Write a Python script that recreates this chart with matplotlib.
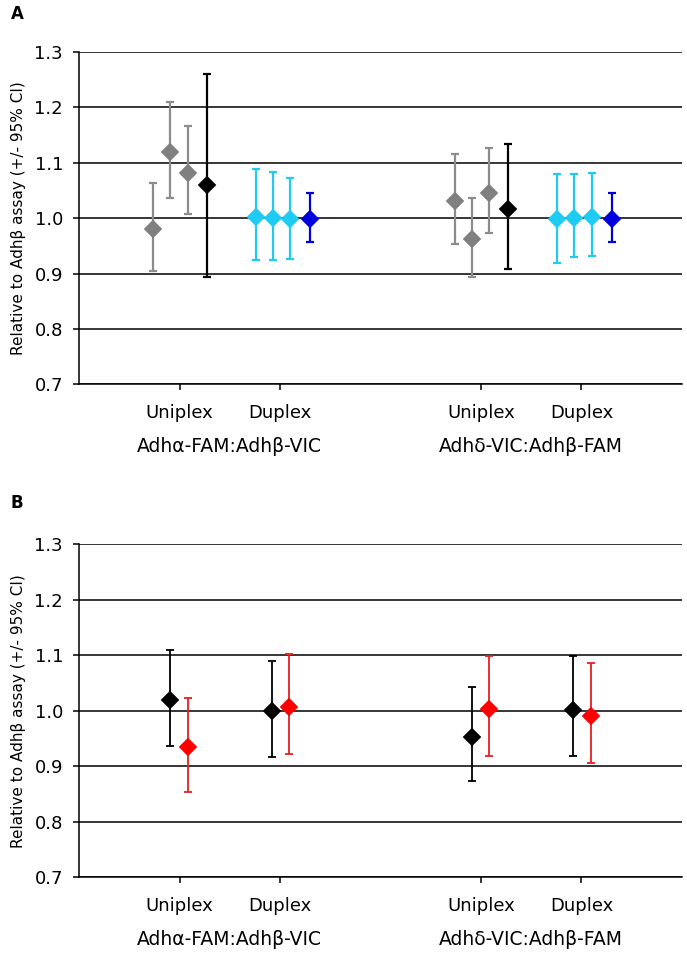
import matplotlib
matplotlib.use("Agg")
import matplotlib.pyplot as plt
import numpy as np

plt.rcParams['font.family'] = ['DejaVu Sans']

# categories
tick_labels = ['Uniplex', 'Duplex', 'Uniplex', 'Duplex']
group_labels = ['Adh\u03b1-FAM:Adh\u03b2-VIC', 'Adh\u03b4-VIC:Adh\u03b2-FAM']
ylabel = 'Relative to Adh\u03b2 assay (+/- 95% CI)'

# panel A: 4 assays per category (3 runs + pooled)
a_mean = [[0.980, 1.119, 1.082, 1.060],
          [1.002, 1.000, 0.999, 0.998],
          [1.031, 0.962, 1.046, 1.016],
          [0.999, 1.000, 1.002, 0.999]]
a_lo = [[0.904, 1.036, 1.008, 0.894],
        [0.925, 0.925, 0.927, 0.956],
        [0.953, 0.894, 0.973, 0.909],
        [0.919, 0.930, 0.932, 0.956]]
a_hi = [[1.064, 1.210, 1.167, 1.260],
        [1.088, 1.084, 1.073, 1.045],
        [1.116, 1.036, 1.127, 1.134],
        [1.079, 1.079, 1.082, 1.045]]

# panel B: 2 assays per category
b_mean = [[1.019, 0.935],
          [1.000, 1.007],
          [0.953, 1.004],
          [1.002, 0.991]]
b_lo = [[0.937, 0.854],
        [0.917, 0.923],
        [0.873, 0.918],
        [0.918, 0.906]]
b_hi = [[1.109, 1.024],
        [1.089, 1.103],
        [1.043, 1.098],
        [1.098, 1.087]]

# layout / style
cat_x = [1, 2, 4, 5]
a_offsets = [[-0.26, -0.09, 0.08, 0.27], [-0.24, -0.07, 0.10, 0.30]]
b_offsets = [[-0.09, 0.08], [-0.08, 0.09]]
a_face = [['#808080', '#808080', '#808080', 'black'],
          ['#1ecbf2', '#1ecbf2', '#1ecbf2', '#0000dd']]
a_err = [['#8c8c8c', '#8c8c8c', '#8c8c8c', 'black'],
         ['#1ecbf2', '#1ecbf2', '#1ecbf2', '#0000dd']]
b_face = [['black', '#ff0000'], ['black', '#ff0000']]
b_err = [['black', '#e81e1e'], ['black', '#e81e1e']]

fig = plt.figure(figsize=(6.87, 9.56), dpi=100)
axA = fig.add_axes([0.115, 0.598, 0.8777, 0.3477])
axB = fig.add_axes([0.115, 0.0823, 0.8777, 0.3483])


def draw(ax, means, los, his, offsets, faces, errs, elw):
    for i in range(4):
        kind = i % 2
        for j in range(len(means[i])):
            m = means[i][j]
            x = cat_x[i] + offsets[kind][j]
            ax.errorbar([x], [m], yerr=[[m - los[i][j]], [his[i][j] - m]],
                        fmt='none', ecolor=errs[kind][j], elinewidth=elw,
                        capsize=3, capthick=elw, zorder=3)
            ax.plot([x], [m], marker='D', markersize=9.3, color=faces[kind][j],
                    markeredgecolor=faces[kind][j], markeredgewidth=0.3,
                    zorder=4, linestyle='none')


def style(ax):
    ax.set_xlim(0, 6)
    ax.set_ylim(0.7, 1.3)
    ax.set_yticks(np.arange(0.7, 1.31, 0.1))
    ax.yaxis.set_major_formatter(matplotlib.ticker.FormatStrFormatter('%.1f'))
    ax.set_xticks(cat_x)
    ax.set_xticklabels(tick_labels)
    ax.grid(axis='y', color='black', linewidth=1.1, zorder=1)
    ax.set_axisbelow(True)
    for s in ['top', 'right']:
        ax.spines[s].set_visible(False)
    ax.spines['left'].set_linewidth(1.1)
    ax.spines['bottom'].set_linewidth(1.1)
    ax.tick_params(axis='y', length=4.5, width=1.1, pad=7, labelsize=13)
    ax.tick_params(axis='x', length=4.5, width=1.1, pad=9.5, labelsize=13)
    ax.set_ylabel(ylabel, fontsize=11, labelpad=6)
    for k, g in enumerate(group_labels):
        ax.annotate(g, xy=(1.5 + 3 * k, 0), xycoords=('data', 'axes fraction'),
                    xytext=(0, -45), textcoords='offset points',
                    ha='center', va='center', fontsize=13.5)


draw(axA, a_mean, a_lo, a_hi, a_offsets, a_face, a_err, 1.6)
draw(axB, b_mean, b_lo, b_hi, b_offsets, b_face, b_err, 1.3)
style(axA)
style(axB)

fig.text(0.016, 0.985, 'A', fontsize=12, fontweight='bold', va='center')
fig.text(0.016, 0.474, 'B', fontsize=12, fontweight='bold', va='center')

fig.savefig('out.png', dpi=100)
